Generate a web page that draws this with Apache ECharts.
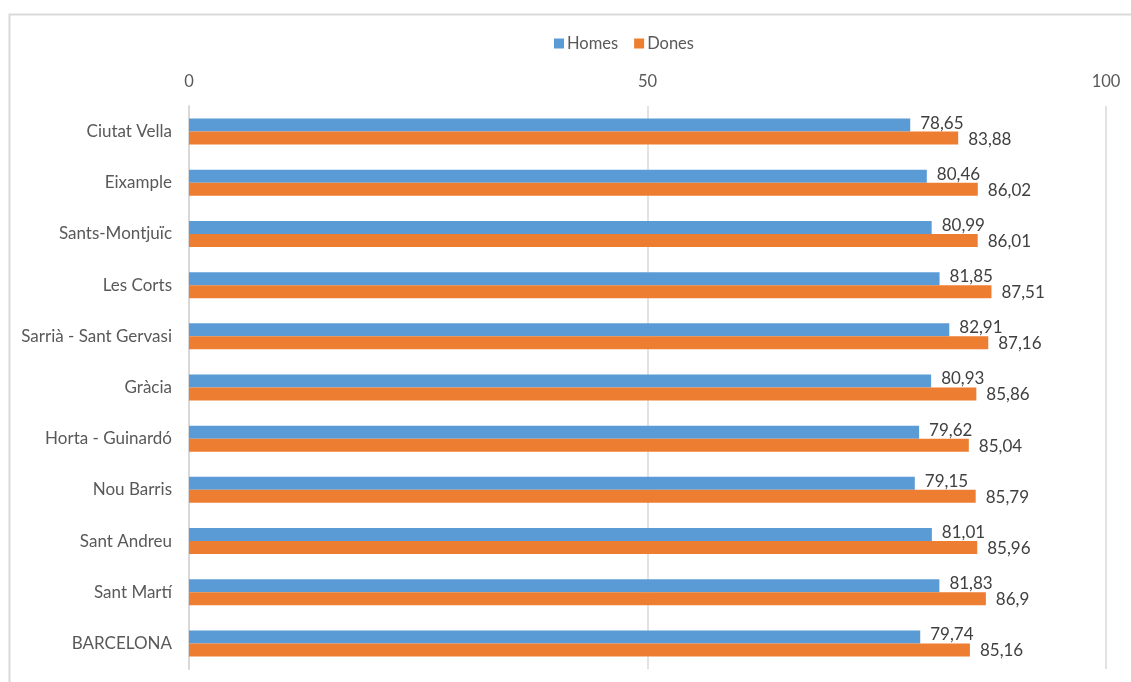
<!DOCTYPE html>
<html>
<head>
<meta charset="utf-8">
<script src="https://cdn.jsdelivr.net/npm/echarts@6/dist/echarts.min.js"></script>
<style>
  html, body { margin: 0; padding: 0; background: #fff; }
  #chart { width: 1131px; height: 682px; }
</style>
</head>
<body>
<div id="chart"></div>
<script>
// Districts of Barcelona, top to bottom
const districts = ['Ciutat Vella', 'Eixample', 'Sants-Montjuïc', 'Les Corts', 'Sarrià - Sant Gervasi',
  'Gràcia', 'Horta - Guinardó', 'Nou Barris', 'Sant Andreu', 'Sant Martí', 'BARCELONA'];
// Life expectancy, men (Homes) and women (Dones)
const homes = [78.65, 80.46, 80.99, 81.85, 82.91, 80.93, 79.62, 79.15, 81.01, 81.83, 79.74];
const dones = [83.88, 86.02, 86.01, 87.51, 87.16, 85.86, 85.04, 85.79, 85.96, 86.9, 85.16];
const seriesNames = ['Homes', 'Dones'];
const xTicks = { min: 0, max: 100, interval: 50 };

const FONT = 'Lato, "Open Sans", sans-serif';
const commaFmt = p => String(p.value).replace('.', ',');

const chart = echarts.init(document.getElementById('chart'));
chart.setOption({
  animation: false,
  textStyle: { fontFamily: FONT },
  graphic: [{
    type: 'rect',
    shape: { x: 9.5, y: 14.5, width: 1300, height: 800 },
    style: { fill: 'none', stroke: '#d9d9d9', lineWidth: 2 },
    silent: true
  }],
  legend: {
    top: 30,
    left: 549,
    itemWidth: 10,
    itemHeight: 10,
    itemGap: 16,
    icon: 'rect',
    textStyle: { color: '#595959', fontSize: 16.5, fontFamily: FONT, padding: [0, 0, 0, -2] },
    data: seriesNames
  },
  grid: { left: 189, right: 25, top: 106, bottom: 13 },
  xAxis: {
    type: 'value',
    position: 'top',
    min: xTicks.min, max: xTicks.max, interval: xTicks.interval,
    axisLine: { show: false },
    axisTick: { show: false },
    axisLabel: { color: '#595959', fontSize: 16.5, margin: 16, fontFamily: FONT },
    splitLine: { lineStyle: { color: '#d9d9d9', width: 1.5 } }
  },
  yAxis: {
    type: 'category',
    inverse: true,
    data: districts,
    axisLine: { show: true, lineStyle: { color: '#d9d9d9', width: 2 } },
    axisTick: { show: false },
    axisLabel: { color: '#595959', fontSize: 17, margin: 17, fontFamily: FONT }
  },
  series: [
    {
      name: seriesNames[0], type: 'bar', data: homes,
      barWidth: 13, barGap: '0%',
      itemStyle: { color: '#5b9bd5' },
      label: { show: true, position: 'right', distance: 10, offset: [0, -2], color: '#404040', fontSize: 17, fontFamily: FONT, formatter: commaFmt }
    },
    {
      name: seriesNames[1], type: 'bar', data: dones,
      barWidth: 13, barGap: '0%',
      itemStyle: { color: '#ed7d31' },
      label: { show: true, position: 'right', distance: 10, offset: [0, 1], color: '#404040', fontSize: 17, fontFamily: FONT, formatter: commaFmt }
    }
  ]
});
</script>
</body>
</html>
